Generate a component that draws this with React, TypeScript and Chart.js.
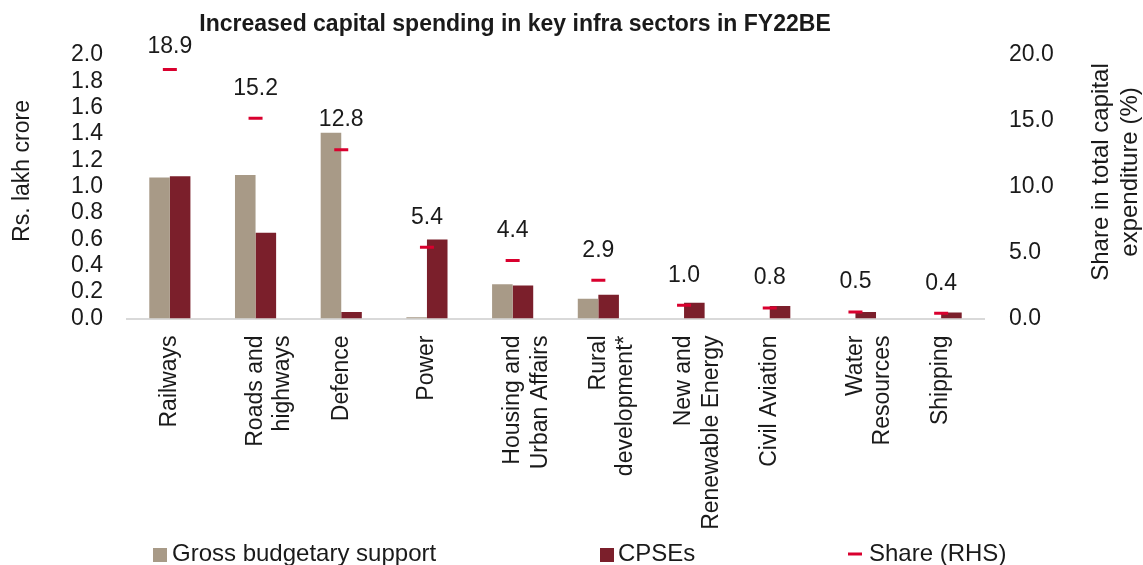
import React, { useEffect, useRef } from "react";
import { Chart, registerables } from "chart.js";

Chart.register(...registerables);

const categories: (string | string[])[] = [
  "Railways",
  ["Roads and", "highways"],
  "Defence",
  "Power",
  ["Housing and", "Urban Affairs"],
  ["Rural", "development*"],
  ["New and", "Renewable Energy"],
  "Civil Aviation",
  ["Water", "Resources"],
  "Shipping",
];
const grossBudgetarySupport = [1.07, 1.09, 1.41, 0.01, 0.26, 0.15, 0.0, 0.0, 0.0, 0.0];
const cpses = [1.08, 0.65, 0.05, 0.6, 0.25, 0.18, 0.12, 0.095, 0.05, 0.045];
const shareRHS = [18.9, 15.2, 12.8, 5.4, 4.4, 2.9, 1.0, 0.8, 0.5, 0.4];
const leftTicks = { min: 0, max: 2.0, step: 0.2 };
const rightTicks = { min: 0, max: 20.0, step: 5.0 };

const TAN = "#A89A87";
const MAROON = "#7B1F2B";
const RED = "#D9002E";
const FONT = "'Liberation Sans', Arial, sans-serif";
const TEXT = "#1a1a1a";

const overlay = {
  id: "overlay",
  afterDraw(chart: any) {
    const ctx = chart.ctx;
    ctx.save();
    ctx.fillStyle = TEXT;
    // title
    ctx.font = `bold 23px ${FONT}`;
    ctx.textAlign = "center";
    ctx.textBaseline = "alphabetic";
    ctx.fillText("Increased capital spending in key infra sectors in FY22BE", 515, 31);
    // axis titles
    ctx.textBaseline = "middle";
    ctx.font = `23px ${FONT}`;
    ctx.save();
    ctx.translate(23, 171);
    ctx.rotate(-Math.PI / 2);
    ctx.fillText("Rs. lakh crore", 0, 0);
    ctx.restore();
    ctx.font = `24px ${FONT}`;
    ctx.save();
    ctx.translate(1101, 172);
    ctx.rotate(-Math.PI / 2);
    ctx.fillText("Share in total capital", 0, 0);
    ctx.restore();
    ctx.save();
    ctx.translate(1130, 172);
    ctx.rotate(-Math.PI / 2);
    ctx.fillText("expenditure (%)", 0, 0);
    ctx.restore();
    // data labels for share
    const meta = chart.getDatasetMeta(2);
    ctx.font = `23px ${FONT}`;
    ctx.textBaseline = "alphabetic";
    meta.data.forEach((pt: any, i: number) => {
      const y = Math.max(pt.y - 23.5, 53);
      ctx.fillText(shareRHS[i].toFixed(1), pt.x, y);
    });
    // legend
    const base = 561;
    ctx.textAlign = "left";
    ctx.font = `24px ${FONT}`;
    ctx.fillStyle = TAN;
    ctx.fillRect(153, 548, 14, 14);
    ctx.fillStyle = TEXT;
    ctx.fillText("Gross budgetary support", 172, base);
    ctx.fillStyle = MAROON;
    ctx.fillRect(600, 548, 14, 14);
    ctx.fillStyle = TEXT;
    ctx.fillText("CPSEs", 618, base);
    ctx.strokeStyle = RED;
    ctx.lineWidth = 3;
    ctx.beginPath();
    ctx.moveTo(848, 554);
    ctx.lineTo(862, 554);
    ctx.stroke();
    ctx.fillText("Share (RHS)", 869, base);
    ctx.restore();
  },
};

export default function App() {
  const ref = useRef<HTMLCanvasElement>(null);
  useEffect(() => {
    document.body.style.margin = "0";
    const chart = new Chart(ref.current!, {
      type: "bar",
      data: {
        labels: categories as any,
        datasets: [
          {
            label: "Gross budgetary support",
            data: grossBudgetarySupport,
            backgroundColor: TAN,
            yAxisID: "y",
            order: 2,
            categoryPercentage: 0.48,
            barPercentage: 1,
          },
          {
            label: "CPSEs",
            data: cpses,
            backgroundColor: MAROON,
            yAxisID: "y",
            order: 2,
            categoryPercentage: 0.48,
            barPercentage: 1,
          },
          {
            type: "line",
            label: "Share (RHS)",
            data: shareRHS,
            yAxisID: "y1",
            showLine: false,
            pointStyle: "line",
            pointRadius: 7,
            pointBorderWidth: 3,
            borderColor: RED,
            backgroundColor: RED,
            order: 0,
          } as any,
        ],
      },
      options: {
        animation: false,
        responsive: false,
        maintainAspectRatio: false,
        layout: { padding: { top: 55, bottom: 30, left: 0, right: 0 } },
        plugins: {
          legend: { display: false },
          title: { display: false },
          tooltip: { enabled: false },
        },
        scales: {
          x: {
            grid: { display: false, drawTicks: false },
            border: { color: "#D9D9D9", width: 2 },
            ticks: {
              color: TEXT,
              font: { family: FONT, size: 23, lineHeight: 1.2 },
              maxRotation: 90,
              minRotation: 90,
              autoSkip: false,
              padding: 17,
            },
            afterFit(scale: any) {
              scale.height = 565 - 30 - 318.5;
            },
          },
          y: {
            position: "left",
            min: leftTicks.min,
            max: leftTicks.max,
            grid: { display: false, drawTicks: false },
            border: { display: false },
            ticks: {
              stepSize: leftTicks.step,
              autoSkip: false,
              color: TEXT,
              font: { family: FONT, size: 23 },
              padding: 24,
              callback: (v: any) => Number(v).toFixed(1),
            },
            afterFit(scale: any) {
              scale.width = 127;
            },
          },
          y1: {
            position: "right",
            min: rightTicks.min,
            max: rightTicks.max,
            grid: { display: false, drawTicks: false },
            border: { display: false },
            ticks: {
              stepSize: rightTicks.step,
              autoSkip: false,
              color: TEXT,
              font: { family: FONT, size: 23 },
              padding: 25,
              callback: (v: any) => Number(v).toFixed(1),
            },
            afterFit(scale: any) {
              scale.width = 1143 - 984;
            },
          },
        },
      },
      plugins: [overlay],
    });
    return () => chart.destroy();
  }, []);
  return (
    <div style={{ width: 1143, height: 565, position: "relative" }}>
      <canvas ref={ref} width={1143} height={565} style={{ width: 1143, height: 565, display: "block" }} />
    </div>
  );
}
